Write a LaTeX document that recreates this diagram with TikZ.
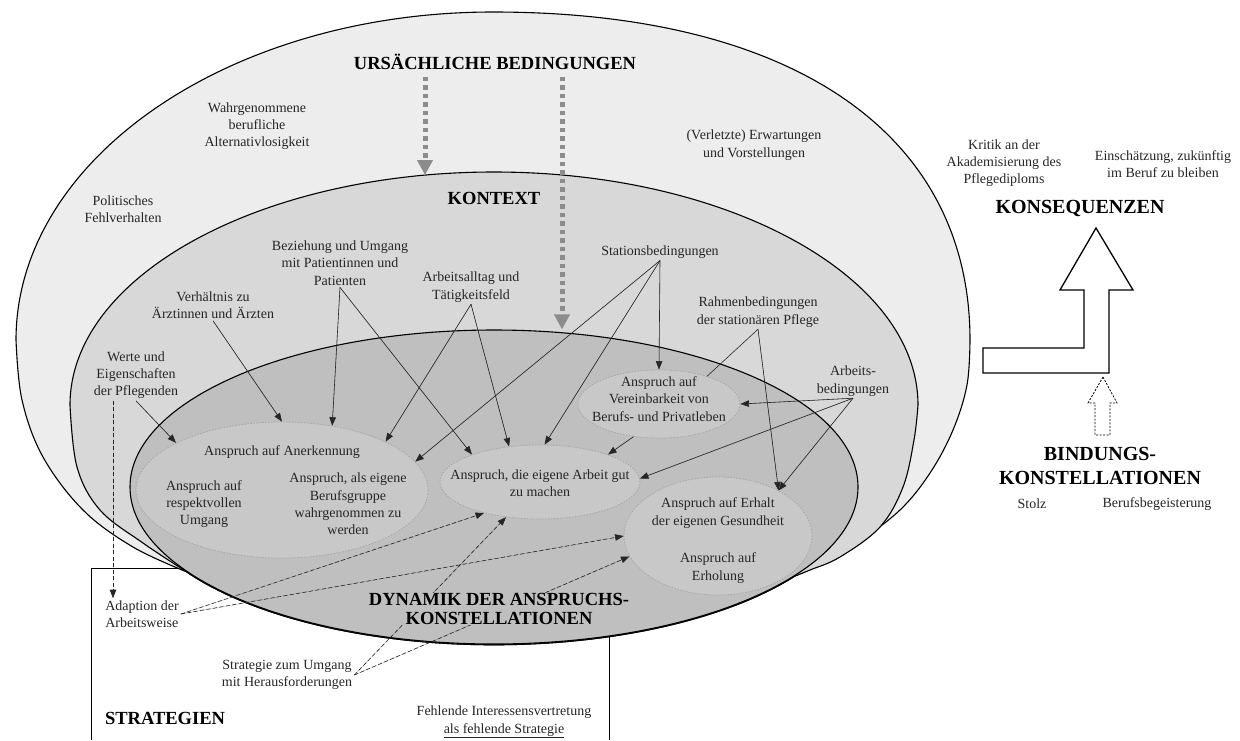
\documentclass[tikz,border=0pt]{standalone}
\usepackage{fontspec}
\setmainfont{Liberation Serif}
\usetikzlibrary{shapes.geometric,arrows.meta}
\definecolor{outerc}{HTML}{EDEDED}
\definecolor{midc}{HTML}{D8D8D8}
\definecolor{innc}{HTML}{BFBFBF}
\definecolor{subc}{HTML}{C8C8C8}
\definecolor{dotc}{HTML}{8C8C8C}
\begin{document}
\begin{tikzpicture}[x=1pt,y=-1pt,
  txt/.style={font=\fontsize{14}{17.3}\selectfont, align=center, text=black!85, inner sep=2pt},
  hd/.style={font=\fontsize{18.5}{18.5}\selectfont\bfseries, align=center, inner sep=1pt},
  bighd/.style={font=\fontsize{20}{24}\selectfont\bfseries, align=center, inner sep=1pt},
  ringline/.style={draw=black, line width=1.1pt},
  ring/.style={ellipse, ringline, inner sep=0pt},
  subell/.style={ellipse, draw=black!35, fill=subc, line width=0.8pt, dash pattern=on 1.5pt off 1.5pt, inner sep=0pt},
  arr/.style={-{Triangle[width=6.5pt,length=8.5pt]}, line width=0.6pt, draw=black!85, fill=black!85},
  plainline/.style={line width=0.6pt, draw=black!85},
  darr/.style={arr, dash pattern=on 4pt off 2.5pt},
  dotarr/.style={line width=5pt, draw=dotc, dash pattern=on 4.5pt off 4pt, -{Triangle[width=15pt,length=15pt,fill=dotc]}},
  bigarrow/.style={line width=1.3pt, draw=black, fill=white},
  smallarrow/.style={line width=0.8pt, draw=black, fill=white, dash pattern=on 2pt off 1.5pt}
]
\useasboundingbox (0,0) rectangle (1240,740);
\fill[white] (0,0) rectangle (1240,740);

% strategies frame (behind the ellipses)
\draw[line width=0.6pt] (91,740) -- (91,568) -- (609,568) -- (609,740);

% outer region (causal conditions)
\path[ringline, fill=outerc] (16,340) arc[start angle=180, end angle=270, x radius=477, y radius=328]
  .. controls (795,12) and (970,135) .. (970,340)
  -- plot[smooth, tension=0.6] coordinates {(970,340) (967,385) (953,430) (930,473) (900,510) (857,543) (823,563) (795,576)}
  arc[start angle=34.2, end angle=147.5, x radius=364, y radius=157]
  -- plot[smooth, tension=0.6] coordinates {(187,572) (133,547) (83,510) (43,457) (22,400) (16,340)} -- cycle;

% context region
\path[ringline, fill=midc] (70,405) arc[start angle=180, end angle=360, x radius=424, y radius=233]
  -- plot[smooth, tension=0.6] coordinates {(918,405) (914,440) (903,487) (880,527) (840,557) (810,570) (795,576)}
  arc[start angle=34.2, end angle=147.5, x radius=364, y radius=157]
  -- plot[smooth, tension=0.6] coordinates {(187,572) (143,543) (100,510) (77,467) (70,405)} -- cycle;

% dynamics ellipse
\node[ring, fill=innc, minimum width=728pt, minimum height=314pt] (dyn) at (494,487) {};

% sub ellipses
\node[subell, minimum width=292pt, minimum height=136pt] (anerk) at (282,490) {};
\node[subell, minimum width=200pt, minimum height=74pt] (gut) at (540,482) {};
\node[subell, minimum width=162pt, minimum height=68pt] (verein) at (659,404) {};
\node[subell, minimum width=188pt, minimum height=118pt] (gesund) at (718,536) {};

% texts
\node[hd] (ursa) at (495,62) {URSÄCHLICHE BEDINGUNGEN};
\node[txt] (wahr) at (257,126) {Wahrgenommene\\berufliche\\Alternativlosigkeit};
\node[txt] (polit) at (123,209) {Politisches\\Fehlverhalten};
\node[txt] (verl) at (754,145) {(Verletzte) Erwartungen\\und Vorstellungen};
\node[hd] (kontext) at (494,198) {KONTEXT};
\node[txt] (bez) at (340,263) {Beziehung und Umgang\\mit Patientinnen und\\Patienten};
\node[txt] (arb) at (471,287) {Arbeitsalltag und\\Tätigkeitsfeld};
\node[txt] (verh) at (213,305) {Verhältnis zu\\Ärztinnen und Ärzten};
\node[txt] (station) at (660,252) {Stationsbedingungen};
\node[txt] (rahmen) at (758,312) {Rahmenbedingungen\\der stationären Pflege};
\node[txt] (werte) at (136,375) {Werte und\\Eigenschaften\\der Pflegenden};
\node[txt] (arbbed) at (853,381) {Arbeits-\\bedingungen};
\node[txt] (tverein) at (659,399) {Anspruch auf\\Vereinbarkeit von\\Berufs- und Privatleben};
\node[txt] (tanerk) at (282,452) {Anspruch auf Anerkennung};
\node[txt] (trespekt) at (204,504) {Anspruch auf\\respektvollen\\Umgang};
\node[txt] (tberuf) at (348,504) {Anspruch, als eigene\\Berufsgruppe\\wahrgenommen zu\\werden};
\node[txt] (tgut) at (540,483) {Anspruch, die eigene Arbeit gut\\zu machen};
\node[txt] (tgesund) at (718,513) {Anspruch auf Erhalt\\der eigenen Gesundheit};
\node[txt] (terhol) at (718,568) {Anspruch auf\\Erholung};
\node[txt, align=left] (adap) at (142,614) {Adaption der\\Arbeitsweise};
\node[txt] (strat) at (287,675) {Strategie zum Umgang\\mit Herausforderungen};
\node[hd] (strategien) at (165,718) {STRATEGIEN};
\node[txt] (fehl) at (504,722) {Fehlende Interessensvertretung\\\underline{als fehlende Strategie}};
\node[bighd] (konseq) at (1080,208) {KONSEQUENZEN};
\node[txt] (kritik) at (1004,163) {Kritik an der\\Akademisierung des\\Pflegediploms};
\node[txt] (einsch) at (1163,164) {Einschätzung, zukünftig\\im Beruf zu bleiben};
\node[bighd] (bind) at (1100,466) {BINDUNGS-\\KONSTELLATIONEN};
\node[txt] (stolz) at (1032,504) {Stolz};
\node[txt] (begeist) at (1157,504) {Berufsbegeisterung};

% block arrows
\draw[bigarrow] (1096,228) -- (1133,290) -- (1109,290) -- (1109,373) -- (983,373) -- (983,348) -- (1084,348) -- (1084,290) -- (1060,290) -- cycle;
\draw[smallarrow] (1103,377) -- (1117,403) -- (1110,403) -- (1110,435) -- (1095,435) -- (1095,403) -- (1088,403) -- cycle;

% dotted causal arrows
\coordinate (ctxtop) at (425,175);
\coordinate (xr) at (562,0);
\draw[dotarr] ([yshift=-6pt]ursa.south -| ctxtop) -- (ctxtop);
\draw[dotarr] ([yshift=-6pt]ursa.south -| xr) -- (dyn.north -| xr);

% context arrows
\draw[arr] (verh.south) -- (anerk.north);
\draw[arr] (werte.south) -- (anerk.156);
\draw[arr] (bez.south) -- (anerk.52);
\draw[arr] (bez.south) -- (gut.158);
\draw[arr] (arb.south) -- (anerk.25);
\draw[arr] (arb.south) -- (gut.131);
\draw[arr] (station.south) -- (anerk.12);
\draw[arr] (station.south) -- (gut.83);
\draw[arr] (station.south) -- (verein.north);
\draw[plainline] (rahmen.south) -- (verein.30);
\draw[arr] (rahmen.south) -- (gesund.37);
\draw[arr] (arbbed.south) -- (verein.east);
\draw[arr] (arbbed.south) -- (gut.2);
\draw[arr] (arbbed.south) -- (gesund.37);
\draw[arr] (verein.232) -- (gut.22);

% strategy arrows
\draw[darr] ([xshift=-23pt]werte.south) -- ([xshift=-23pt]werte.south |- adap.north);
\draw[darr] (adap.east) -- (gut.209);
\draw[darr] (adap.east) -- (gesund.180);
\draw[darr] (strat.east) -- (gut.226);
\draw[darr] (strat.east) -- (gesund.193);

% dynamics label on top
\node[hd, fill=innc] (dynlab) at (499,609) {DYNAMIK DER ANSPRUCHS-\\KONSTELLATIONEN};
\end{tikzpicture}
\end{document}
